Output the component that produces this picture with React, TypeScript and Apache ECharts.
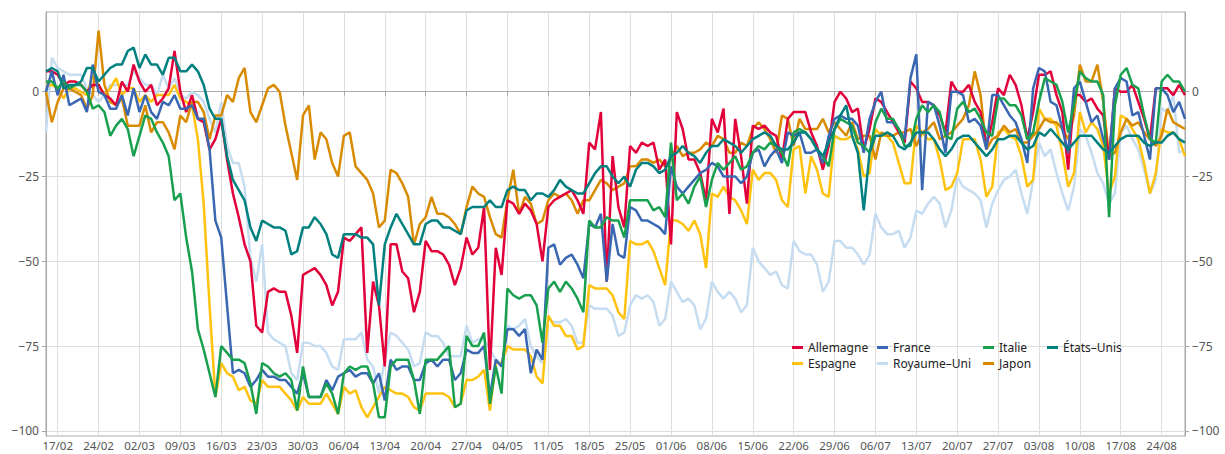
import React, { useEffect, useRef } from "react";
import * as echarts from "echarts";

// Daily values from 15/02 to 28/08 (196 days)
const START = { year: 2020, month: 1, day: 15 };
const DAY_COUNT = 196;

const allemagne = [
  6, 6, 5, 2, 3, 3, 2, 0, 2, 2, -1, -2, -4, 3, 0, 8, 3, 0, 2, -4, -2, 1, 12, 0, -6, -1, -8, -9, -17, -14, -8, -20, -30, -37, -45, -50, -69, -71, -59, -58,
  -59, -59, -66, -77, -54, -53, -52, -54, -57, -63, -59, -43, -44, -42, -40, -77, -56, -63, -81, -45, -45, -53, -55, -65, -59, -44, -47, -47, -48, -51, -57, -52, -43, -48, -46, -34, -82, -46, -54,
  -32, -33, -36, -33, -35, -39, -50, -34, -32, -31, -30, -29, -32, -36, -15, -17, -6, -56, -19, -34, -40, -16, -18, -15, -16, -15, -23, -20, -45, -6, -11, -20, -20, -24, -32, -8, -12, -5, -36,
  -8, -19, -33, -10, -11, -10, -12, -13, -20, -8, -6, -6, -6, -12, -16, -23, -16, -3, 0, -2, -6, -5, -17, -11, -2, -3, -6, -9, -12, -15, 3, 1, -3, -3, -4, -7, -12, 3, 0,
  0, 2, -3, -6, -16, -9, 1, -1, 5, 2, -4, -14, -6, 5, 5, 6, -1, -6, -23, -1, -1, -3, -2, -5, -7, -20, 1, 0, 0, 2, -3, -8, -14, 1, 1, 1, -1, 2, -1,
];

const espagne = [
  2, 2, 1, -2, 1, 1, 0, -1, 5, 2, -1, 1, 4, -1, 1, 1, -3, -1, -3, -1, -1, -1, 2, -2, -3, -4, -14, -33, -63, -90, -80, -83, -84, -88, -87, -91, -92, -85, -87, -87,
  -87, -89, -91, -94, -90, -92, -92, -92, -89, -92, -95, -87, -89, -88, -93, -96, -93, -90, -87, -88, -89, -89, -90, -93, -94, -89, -89, -89, -89, -90, -93, -92, -85, -85, -84, -82, -94, -80, -80,
  -75, -76, -76, -76, -78, -84, -86, -66, -69, -69, -72, -72, -76, -75, -57, -58, -58, -58, -60, -65, -67, -44, -45, -45, -44, -47, -52, -57, -38, -38, -39, -41, -38, -42, -52, -30, -31, -28, -31,
  -32, -35, -39, -23, -26, -24, -24, -26, -32, -34, -17, -16, -30, -19, -23, -30, -31, -13, -14, -14, -13, -17, -25, -24, -11, -13, -13, -15, -21, -27, -27, -10, -12, -14, -14, -20, -29, -28, -24,
  -14, -14, -14, -20, -31, -28, -12, -11, -13, -14, -19, -28, -26, -5, -8, -8, -10, -18, -28, -24, -6, -12, -9, -11, -16, -30, -25, -7, -8, -11, -14, -21, -30, -24, -11, -12, -12, -14, -19,
];

const france = [
  0, 6, -1, 5, -4, -3, -2, -6, 8, 0, -1, -5, -5, -1, -7, 1, -6, -1, -6, -8, -3, -4, -1, -5, -5, -4, -8, -8, -17, -38, -43, -63, -83, -82, -83, -87, -85, -82, -84, -84,
  -85, -85, -87, -89, -83, -90, -90, -90, -85, -88, -84, -83, -82, -84, -83, -83, -86, -83, -91, -79, -82, -81, -81, -85, -85, -80, -79, -81, -79, -79, -85, -83, -76, -77, -77, -75, -90, -79, -81,
  -70, -70, -72, -70, -83, -76, -79, -46, -45, -51, -49, -48, -51, -55, -39, -40, -36, -56, -39, -48, -49, -34, -35, -38, -38, -39, -40, -42, -22, -28, -30, -28, -26, -24, -23, -21, -22, -25, -25,
  -25, -27, -25, -18, -17, -22, -19, -17, -21, -12, -13, -12, -18, -18, -17, -21, -13, -8, -7, -8, -8, -10, -18, -8, -3, 0, -9, -9, -11, -14, 4, 11, -29, -3, -4, -10, -18, 0, 0,
  -1, -9, -8, -10, -17, -1, -1, -4, -7, -9, -14, -21, 1, 7, 6, -3, -4, -11, -18, 1, 3, -3, -9, -7, -14, -20, 1, 4, 3, -7, -6, -13, -20, 1, 1, -1, -6, -3, -8,
];

const royaumeUni = [
  -12, 10, 7, 6, 5, 5, 5, 1, -1, -3, -1, 2, 2, 2, 2, 6, 4, 2, 2, -1, 5, 1, 4, -1, -2, 0, -1, -3, -8, -12, -3, -16, -21, -21, -28, -49, -56, -45, -71, -73,
  -74, -75, -83, -85, -74, -74, -75, -75, -77, -81, -82, -73, -73, -73, -71, -79, -81, -89, -79, -71, -72, -74, -76, -81, -80, -71, -72, -72, -74, -78, -78, -78, -69, -74, -73, -73, -76, -79, -81,
  -69, -70, -69, -67, -75, -78, -80, -67, -68, -68, -67, -69, -74, -74, -63, -64, -64, -64, -66, -72, -71, -63, -60, -61, -60, -62, -69, -67, -56, -59, -62, -61, -63, -70, -67, -56, -59, -61, -59,
  -61, -65, -63, -46, -50, -52, -54, -53, -57, -58, -44, -47, -48, -48, -51, -59, -56, -44, -44, -46, -46, -48, -51, -48, -36, -40, -42, -42, -41, -46, -43, -35, -36, -33, -31, -33, -40, -35, -25,
  -28, -29, -30, -32, -40, -33, -29, -26, -25, -23, -30, -36, -26, -15, -19, -17, -24, -30, -35, -28, -11, -13, -18, -24, -27, -33, -30, -12, -10, -14, -17, -23, -30, -26, -5, -6, -1, -18, -17,
];

const italie = [
  3, 3, 1, 3, 1, 2, 2, 0, -5, -4, -6, -13, -10, -8, -11, -19, -13, -7, -8, -12, -15, -19, -32, -30, -43, -53, -70, -76, -83, -90, -75, -77, -79, -79, -80, -86, -95, -80, -81, -83,
  -84, -83, -85, -94, -81, -90, -90, -90, -86, -89, -95, -83, -81, -82, -81, -81, -86, -96, -96, -81, -79, -79, -79, -85, -95, -79, -79, -79, -77, -75, -93, -92, -72, -75, -75, -71, -92, -81, -89,
  -58, -60, -61, -60, -60, -63, -74, -58, -56, -59, -56, -58, -61, -65, -38, -40, -40, -37, -38, -38, -43, -32, -32, -32, -32, -35, -34, -37, -15, -32, -30, -33, -28, -25, -34, -26, -21, -23, -21,
  -19, -23, -22, -18, -16, -17, -15, -16, -18, -22, -12, -11, -12, -14, -17, -19, -22, -11, -8, -9, -10, -15, -16, -18, -9, -5, -8, -8, -11, -16, -16, -8, -4, -6, -4, -6, -13, -14, -5,
  -3, -6, -5, -8, -12, -13, -2, -2, -4, -4, -7, -14, -12, -3, 4, 3, 2, -3, -12, -4, 6, 4, 3, 3, -1, -37, -4, 5, 7, 2, 1, -7, -14, -15, 3, 5, 3, 3, 0,
];

const japon = [
  0, -9, -3, 1, 1, 0, -1, -5, -1, 18, 2, -3, -4, -2, -10, -10, -10, -4, -12, -9, -9, -12, -17, -7, -9, -3, -3, -6, -14, -7, -7, -1, -3, 4, 7, -6, -9, -4, 1, 2,
  0, -10, -18, -26, -7, -4, -20, -12, -14, -21, -25, -13, -12, -22, -24, -26, -30, -40, -38, -23, -24, -27, -31, -45, -39, -37, -31, -36, -36, -37, -39, -42, -34, -28, -30, -31, -37, -42, -43,
  -32, -23, -36, -31, -33, -39, -38, -32, -30, -31, -30, -32, -36, -32, -32, -29, -26, -27, -29, -28, -27, -22, -22, -20, -20, -21, -20, -22, -20, -16, -19, -18, -18, -17, -15, -16, -13, -14, -18,
  -18, -15, -16, -11, -9, -11, -14, -18, -7, -8, -16, -8, -11, -11, -11, -8, -12, -9, -11, -13, -9, -14, -13, -13, -20, -12, -13, -13, -12, -12, -11, -16, -12, -11, -9, -14, -13, -12, -10,
  -8, -4, 6, -1, -17, -14, -13, -10, -12, -11, -15, -15, -13, -11, -8, -9, -9, -11, -14, -7, 8, 3, 3, 8, -3, -19, -18, -12, -8, -10, -9, -12, -14, -16, -13, -5, -9, -10, -11,
];

const etatsUnis = [
  6, 7, 6, 1, 2, 2, 3, 7, 7, 3, 5, 7, 8, 8, 12, 13, 7, 11, 8, 8, 5, 10, 10, 6, 6, 8, 6, 2, -5, -8, -8, -19, -26, -29, -32, -40, -44, -38, -39, -40,
  -40, -41, -48, -47, -40, -40, -37, -39, -42, -48, -49, -42, -42, -42, -43, -43, -45, -63, -45, -40, -36, -39, -42, -45, -45, -39, -38, -38, -40, -40, -41, -42, -35, -34, -34, -34, -32, -34, -34,
  -29, -28, -29, -29, -32, -30, -30, -31, -29, -26, -28, -29, -30, -30, -27, -24, -22, -22, -25, -27, -25, -28, -23, -21, -21, -22, -24, -23, -19, -18, -16, -18, -19, -21, -18, -16, -16, -14, -15,
  -16, -18, -16, -14, -13, -12, -13, -16, -17, -17, -15, -12, -12, -14, -17, -19, -15, -11, -7, -4, -13, -18, -35, -18, -13, -13, -12, -13, -16, -17, -15, -12, -12, -12, -14, -17, -19, -17, -14,
  -13, -13, -15, -17, -19, -17, -14, -14, -13, -13, -15, -17, -16, -12, -13, -11, -13, -15, -17, -15, -13, -13, -13, -15, -17, -18, -16, -14, -13, -13, -13, -15, -16, -15, -15, -13, -12, -14, -15,
];

const yTicks = [-100, -75, -50, -25, 0];
const FIRST_LABEL_INDEX = 2; // 17/02
const LABEL_STEP = 7;

const seriesDefs = [
  { name: "Royaume\u2013Uni", data: royaumeUni, color: "#c5dcf1" },
  { name: "Espagne", data: espagne, color: "#ffc20e" },
  { name: "Japon", data: japon, color: "#d98b00" },
  { name: "Allemagne", data: allemagne, color: "#e2003b" },
  { name: "France", data: france, color: "#3a67b1" },
  { name: "Italie", data: italie, color: "#19a04f" },
  { name: "\u00c9tats\u2013Unis", data: etatsUnis, color: "#00807f" },
];

const legendColumns = [
  { left: 792, items: ["Allemagne", "Espagne"] },
  { left: 877, items: ["France", "Royaume\u2013Uni"] },
  { left: 983, items: ["Italie", "Japon"] },
  { left: 1047, items: ["\u00c9tats\u2013Unis"] },
];

function buildDates(): string[] {
  const out: string[] = [];
  const d = new Date(Date.UTC(START.year, START.month, START.day));
  for (let i = 0; i < DAY_COUNT; i++) {
    const dd = String(d.getUTCDate()).padStart(2, "0");
    const mm = String(d.getUTCMonth() + 1).padStart(2, "0");
    out.push(dd + "/" + mm);
    d.setUTCDate(d.getUTCDate() + 1);
  }
  return out;
}

const fmtY = (v: number) => (v === 0 ? "0" : v < 0 ? "\u2212" + Math.abs(v) : String(v));

export default function App() {
  const ref = useRef<HTMLDivElement>(null);
  useEffect(() => {
    document.body.style.margin = "0";
    if (!ref.current) return;
    const chart = echarts.init(ref.current, undefined, { renderer: "svg" });
    const dates = buildDates();
    const showIdx = (index: number) => index >= FIRST_LABEL_INDEX && (index - FIRST_LABEL_INDEX) % LABEL_STEP === 0;
    const font = "'Noto Sans', 'Open Sans', sans-serif";
    const yCommon = {
      type: "value",
      min: -101.5,
      max: 23.5,
      axisLine: { show: true, lineStyle: { color: "#a9a9a9", width: 1 } },
      axisTick: { show: true, length: 4, customValues: yTicks, lineStyle: { color: "#a9a9a9" } },
      axisLabel: {
        customValues: yTicks,
        formatter: fmtY,
        color: "#555",
        fontSize: 12,
        fontFamily: font,
        margin: 7,
      },
    };
    chart.setOption({
      animation: false,
      backgroundColor: "#ffffff",
      grid: {
        left: 46,
        right: 40,
        top: 12,
        bottom: 18,
        show: true,
        borderColor: "#a9a9a9",
        borderWidth: 1,
      },
      legend: legendColumns.map((c) => ({
        data: c.items,
        left: c.left,
        top: 341,
        orient: "vertical",
        icon: "rect",
        itemWidth: 11,
        itemHeight: 3,
        itemGap: 3,
        padding: 0,
        selectedMode: false,
        textStyle: { color: "#222", fontSize: 12, fontFamily: font, lineHeight: 13, padding: [0, 0, 0, 0] },
      })),
      xAxis: {
        type: "category",
        data: dates,
        boundaryGap: false,
        axisLine: { show: true, lineStyle: { color: "#a9a9a9" } },
        axisTick: { show: true, interval: (i: number) => showIdx(i), length: 4, lineStyle: { color: "#a9a9a9" } },
        axisLabel: {
          interval: (i: number) => showIdx(i),
          formatter: (v: string, i: number) => (showIdx(i) ? v : ""),
          color: "#555",
          fontSize: 11.5,
          lineHeight: 13,
          fontFamily: font,
          margin: 3,
        },
        splitLine: { show: true, interval: (i: number) => showIdx(i), lineStyle: { color: "#dedede", width: 1 } },
      },
      yAxis: [
        { ...yCommon, position: "left", splitLine: { show: true, lineStyle: { color: "#dedede", width: 1 } } },
        { ...yCommon, position: "right", splitLine: { show: false } },
      ],
      series: seriesDefs.map((s) => ({
        name: s.name,
        type: "line",
        data: s.data,
        yAxisIndex: 0,
        symbol: "none",
        showSymbol: false,
        color: s.color,
        lineStyle: { color: s.color, width: 2.5 },
      })),
    });
    return () => chart.dispose();
  }, []);
  return <div ref={ref} style={{ width: 1225, height: 454 }} />;
}
